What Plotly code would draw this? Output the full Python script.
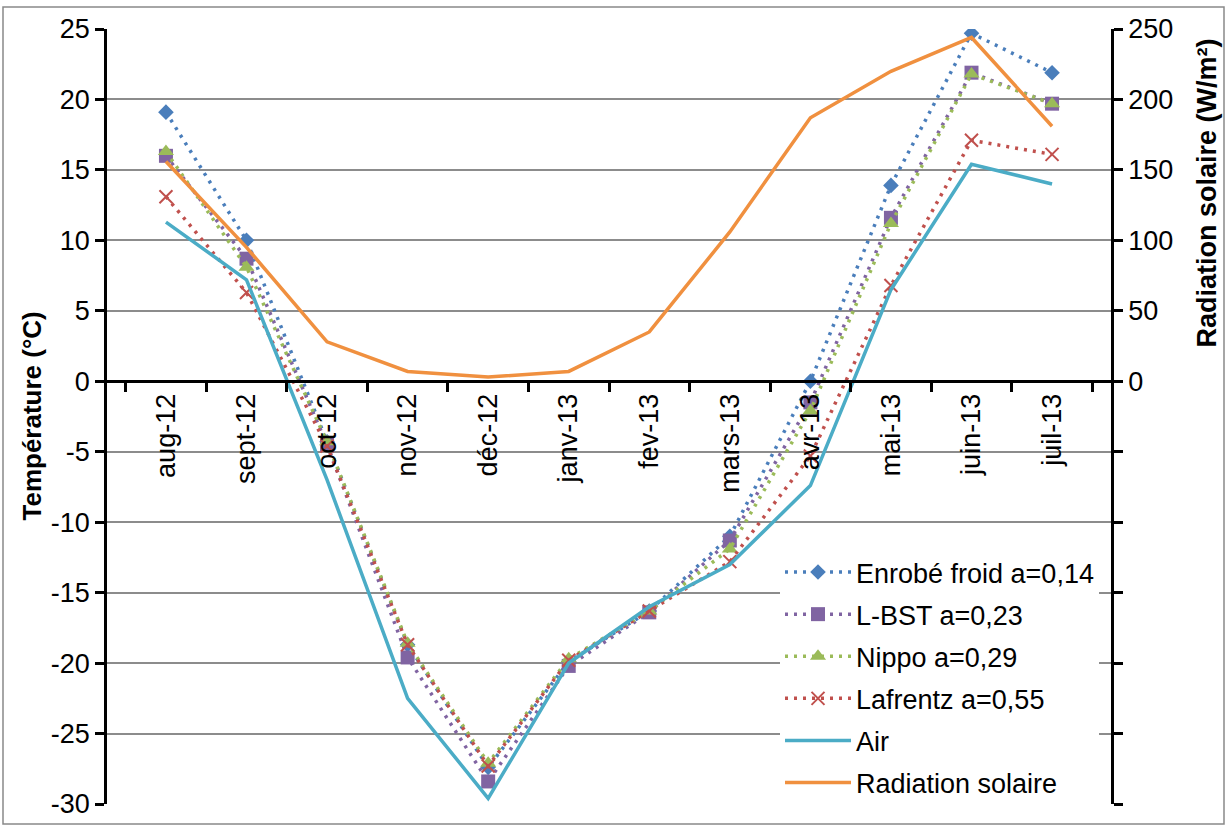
import plotly.graph_objects as go

# Monthly categories (Aug 2012 - Jul 2013)
months = ["aug-12", "sept-12", "oct-12", "nov-12", "déc-12", "janv-13",
          "fev-13", "mars-13", "avr-13", "mai-13", "juin-13", "juil-13"]

# Surface temperatures (°C) per coating
enrobe_froid = [19.1, 10.0, -4.3, -18.7, -27.4, -19.9, -16.3, -11.0, 0.0, 13.9, 24.7, 21.9]
l_bst = [16.0, 8.7, -4.5, -19.6, -28.4, -20.2, -16.4, -11.3, -1.5, 11.6, 21.9, 19.7]
nippo = [16.3, 8.1, -4.3, -18.6, -27.1, -19.7, -16.3, -11.9, -2.1, 11.2, 21.8, 19.7]
lafrentz = [13.1, 6.3, -4.6, -18.7, -27.3, -19.8, -16.3, -12.8, -5.3, 6.8, 17.1, 16.1]
air = [11.3, 7.2, -7.0, -22.5, -29.6, -20.0, -16.0, -13.0, -7.4, 6.5, 15.4, 14.0]

# Solar radiation (W/m²)
radiation = [156, 95, 28, 7, 3, 7, 35, 106, 187, 220, 244, 181]

temp_ticks = list(range(-30, 30, 5))
rad_ticks = list(range(-300, 300, 50))

FONT = "Liberation Sans, Arial, sans-serif"
FS = 27
DOT = "3px,6px"

fig = go.Figure()

dotted = [
    ("Enrobé froid a=0,14", enrobe_froid, "#4A7EBB", dict(symbol="diamond", size=12)),
    ("L-BST a=0,23", l_bst, "#8064A2", dict(symbol="square", size=14)),
    ("Nippo a=0,29", nippo, "#9BBB59", dict(symbol="triangle-up", size=14)),
    ("Lafrentz a=0,55", lafrentz, "#C0504D", dict(symbol="x-thin", size=13)),
]
for i, (name, vals, color, mk) in enumerate(dotted):
    marker = dict(color=color, **mk)
    if mk["symbol"] == "x-thin":
        marker["line"] = dict(color=color, width=2)
    fig.add_trace(go.Scatter(
        x=months, y=vals, name=name, mode="lines+markers",
        line=dict(color=color, width=3.5, dash=DOT),
        marker=marker, legendgroup=f"g{i}", yaxis="y",
    ))

fig.add_trace(go.Scatter(
    x=months, y=air, name="Air", mode="lines",
    line=dict(color="#4BACC6", width=3.5), legendgroup="g4", yaxis="y",
))
fig.add_trace(go.Scatter(
    x=months, y=radiation, name="Radiation solaire", mode="lines",
    line=dict(color="#F0903F", width=3.5), legendgroup="g5", yaxis="y2",
))

L, R, T, B = 107, 117, 29, 25
W, H = 1228, 831
pw, ph = W - L - R, H - T - B

fig.update_layout(
    width=W, height=H,
    margin=dict(l=L, r=R, t=T, b=B),
    paper_bgcolor="white", plot_bgcolor="white",
    font=dict(family=FONT, size=FS, color="black"),
    showlegend=True,
    legend=dict(
        x=(780 - L) / pw, y=-3 / ph, xanchor="left", yanchor="bottom",
        bgcolor="white", borderwidth=0, tracegroupgap=4,
        font=dict(size=FS), itemwidth=66,
    ),
    xaxis=dict(
        type="category", anchor="free", position=30 / 55,
        showline=True, linecolor="black", linewidth=2.5,
        ticks="outside", tickson="boundaries", ticklen=9, tickwidth=2.5,
        tickcolor="black", tickangle=-90, showgrid=False,
        tickfont=dict(size=FS),
    ),
    yaxis=dict(
        range=[-30, 25], tickvals=temp_ticks,
        ticktext=[str(v) for v in temp_ticks],
        showline=True, linecolor="black", linewidth=2.5,
        ticks="outside", ticklen=9, tickwidth=2.5, tickcolor="black",
        showgrid=True, gridcolor="#8C8C8C", gridwidth=1.5, zeroline=False,
        tickfont=dict(size=FS),
    ),
    yaxis2=dict(
        range=[-300, 250], overlaying="y", side="right",
        tickvals=rad_ticks,
        ticktext=[str(v) if v >= 0 else "" for v in rad_ticks],
        showline=True, linecolor="black", linewidth=2.5,
        ticks="outside", ticklen=9, tickwidth=2.5, tickcolor="black",
        showgrid=False, zeroline=False, tickfont=dict(size=FS),
    ),
    annotations=[
        dict(text="Température (°C)", textangle=-90, showarrow=False,
             xref="paper", yref="paper", x=(31 - L) / pw, y=0.5,
             xanchor="center", yanchor="middle",
             font=dict(size=26, weight="bold")),
        dict(text="Radiation solaire (W/m²)", textangle=-90, showarrow=False,
             xref="paper", yref="paper", x=(1207 - L) / pw, y=(806 - 194) / ph,
             xanchor="center", yanchor="middle",
             font=dict(size=27, weight="bold")),
    ],
    shapes=[
        dict(type="rect", xref="paper", yref="paper",
             x0=(3 - L) / pw, x1=(1224 - L) / pw,
             y0=(806 - 826) / ph, y1=(806 - 7) / ph,
             line=dict(color="#898989", width=1.5), layer="below"),
    ],
)

fig.write_html("out.html")
